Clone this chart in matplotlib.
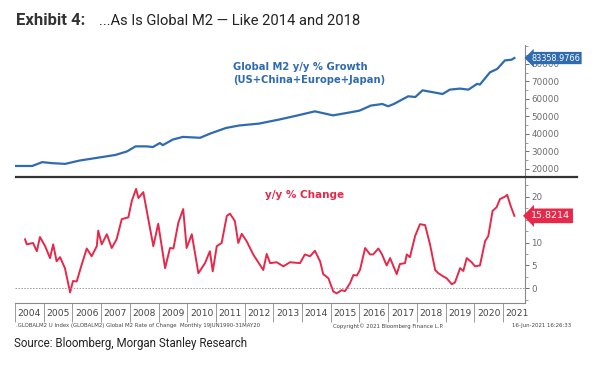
import matplotlib
matplotlib.use("Agg")
import matplotlib.pyplot as plt
from matplotlib.lines import Line2D
from matplotlib.transforms import blended_transform_factory
from matplotlib.ticker import MultipleLocator, FixedLocator, NullFormatter

# Global M2 level (USD bn)
m2_t = [2004.0, 2004.6, 2004.95, 2005.3, 2005.75, 2006.25, 2006.8, 2007.5,
        2007.9, 2008.2, 2008.6, 2008.8, 2009.05, 2009.15, 2009.5, 2009.85,
        2010.45, 2010.8, 2011.35, 2011.8, 2012.5, 2013.2, 2013.8, 2014.45,
        2015.08, 2015.67, 2016.0, 2016.4, 2016.8, 2017.0, 2017.2, 2017.7,
        2017.95, 2018.2, 2018.57, 2018.9, 2019.15, 2019.5, 2019.8, 2020.1,
        2020.2, 2020.55, 2020.8, 2021.07, 2021.3, 2021.4]
m2_v = [21700, 21700, 23900, 23300, 22900, 24800, 26200, 28000,
        30000, 32900, 32900, 32500, 34800, 33600, 36800, 38300,
        37800, 40200, 43400, 44800, 45900, 48200, 50400, 52900,
        50600, 52300, 53300, 56200, 57100, 55800, 57100, 61500,
        61100, 64900, 63800, 62800, 65300, 65900, 65300, 68600,
        68200, 75200, 77100, 82000, 82400, 83359]
m2_last = "83358.9766"

# y/y % change
yy_t = [2004.35, 2004.41, 2004.63, 2004.76, 2004.87, 2005.05, 2005.22, 2005.33,
        2005.45, 2005.57, 2005.74, 2005.92, 2006.02, 2006.15, 2006.32, 2006.50,
        2006.67, 2006.85, 2006.90, 2007.02, 2007.20, 2007.37, 2007.54, 2007.72,
        2007.95, 2008.07, 2008.22, 2008.30, 2008.47, 2008.82, 2008.99, 2009.23,
        2009.40, 2009.52, 2009.69, 2009.86, 2009.98, 2010.16, 2010.39, 2010.62,
        2010.79, 2010.89, 2011.03, 2011.20, 2011.38, 2011.49, 2011.66, 2011.78,
        2011.90, 2012.07, 2012.30, 2012.65, 2012.77, 2012.89, 2013.12, 2013.35,
        2013.58, 2013.93, 2014.10, 2014.28, 2014.45, 2014.63, 2014.74, 2014.92,
        2015.09, 2015.21, 2015.38, 2015.50, 2015.67, 2015.79, 2015.91, 2016.02,
        2016.20, 2016.37, 2016.48, 2016.66, 2016.78, 2016.95, 2017.07, 2017.30,
        2017.41, 2017.59, 2017.65, 2017.76, 2017.94, 2018.11, 2018.29, 2018.46,
        2018.64, 2018.75, 2018.92, 2019.04, 2019.22, 2019.33, 2019.51, 2019.62,
        2019.74, 2019.91, 2020.03, 2020.20, 2020.38, 2020.49, 2020.64, 2020.78,
        2020.90, 2021.07, 2021.15, 2021.27, 2021.40]
yy_v = [10.7, 9.6, 9.9, 8.1, 11.2, 9.2, 6.6, 9.6,
        5.9, 6.8, 4.4, -0.9, 1.6, 1.5, 5.1, 8.7,
        7.0, 9.2, 12.6, 9.6, 11.8, 8.8, 10.7, 15.1,
        15.5, 19.1, 21.7, 19.7, 21.0, 9.2, 14.1, 4.4,
        8.8, 8.7, 14.3, 17.3, 8.8, 11.8, 3.3, 5.5,
        8.1, 3.7, 9.2, 9.9, 15.8, 16.3, 14.7, 9.9,
        11.9, 10.3, 7.4, 4.0, 7.5, 5.5, 5.7, 4.8,
        5.7, 5.5, 7.4, 7.0, 8.2, 5.9, 3.1, 2.2,
        -0.7, -1.1, -0.4, -0.6, 1.1, 2.9, 2.8, 4.0,
        8.8, 7.4, 7.4, 8.7, 7.5, 5.0, 6.6, 3.1,
        5.3, 5.5, 7.4, 6.8, 11.4, 14.0, 13.8, 9.6,
        4.0, 3.3, 2.6, 2.2, 0.9, 1.3, 4.4, 3.8,
        6.6, 5.7, 4.8, 5.0, 10.3, 11.4, 16.9, 17.7,
        19.5, 20.0, 20.4, 18.0, 15.8214]
yy_last = "15.8214"

years = list(range(2004, 2022))
m2_ticks = [20000, 30000, 40000, 50000, 60000, 70000, 80000]
yy_ticks = [0, 5, 10, 20]   # the 15 label sits under the last-value tag

BLUE = "#2f6bb0"
RED = "#e6284a"
GREY = "#6b6b6b"

W, H = 608, 371
fig = plt.figure(figsize=(W / 100, H / 100), dpi=100)
fig.patch.set_facecolor("white")

ax1 = fig.add_axes([15 / W, (H - 177) / H, 510 / W, 132 / H])
ax2 = fig.add_axes([15 / W, (H - 303) / H, 510 / W, 126 / H])

for ax in (ax1, ax2):
    ax.set_xlim(2004.0, 2021.77)
    ax.spines["left"].set_visible(False)
    ax.spines["top"].set_visible(False)
    ax.spines["right"].set_color("#8a8a8a")
    ax.spines["right"].set_linewidth(0.8)
    ax.yaxis.tick_right()
    ax.tick_params(axis="y", which="major", direction="out", length=3,
                   width=0.6, color="#555555", labelsize=6.3,
                   labelcolor=GREY, pad=1.5)
    ax.tick_params(axis="y", which="minor", direction="out", length=1.8,
                   width=0.5, color="#777777")

# upper panel: level
ax1.plot(m2_t, m2_v, color=BLUE, lw=1.6, solid_joinstyle="round")
ax1.set_ylim(15400, 90800)
ax1.yaxis.set_major_locator(FixedLocator(m2_ticks))
ax1.yaxis.set_minor_locator(MultipleLocator(5000))
ax1.spines["bottom"].set_visible(False)
ax1.set_xticks([])
ax1.text(233 / W, 1 - 67 / H, "Global M2 y/y % Growth", transform=fig.transFigure,
         color=BLUE, fontsize=7.2, fontweight="bold", va="center")
ax1.text(233 / W, 1 - 80 / H, "(US+China+Europe+Japan)", transform=fig.transFigure,
         color=BLUE, fontsize=7.2, fontweight="bold", va="center")
tr1 = blended_transform_factory(ax1.transAxes, ax1.transData)
ax1.text(1.012, m2_v[-1], m2_last, transform=tr1, color="white",
         fontsize=5.9, va="center", ha="left",
         bbox=dict(boxstyle="larrow,pad=0.2", fc=BLUE, ec="none"), zorder=5)

# lower panel: y/y change
ax2.plot(yy_t, yy_v, color=RED, lw=1.4, solid_joinstyle="round")
ax2.axhline(0, color="#9a9a9a", lw=0.7, ls=(0, (1.5, 1.5)))
ax2.set_ylim(-3.2, 24.3)
ax2.yaxis.set_major_locator(FixedLocator(yy_ticks))
ax2.yaxis.set_minor_locator(MultipleLocator(2.5))
ax2.spines["bottom"].set_color("#8a8a8a")
ax2.spines["bottom"].set_linewidth(0.8)
ax2.text(265 / W, 1 - 195 / H, "y/y % Change", transform=fig.transFigure,
         color=RED, fontsize=7.5, fontweight="bold", va="center")
tr2 = blended_transform_factory(ax2.transAxes, ax2.transData)
ax2.text(1.012, yy_v[-1], yy_last, transform=tr2, color="white",
         fontsize=6.8, va="center", ha="left",
         bbox=dict(boxstyle="larrow,pad=0.3", fc=RED, ec="none"), zorder=5)

# year bands on the x axis
ax2.xaxis.set_major_locator(FixedLocator(years))
ax2.xaxis.set_major_formatter(NullFormatter())
ax2.xaxis.set_minor_locator(FixedLocator([y + 0.5 for y in years]))
ax2.set_xticklabels([str(y) for y in years], minor=True)
ax2.tick_params(axis="x", which="major", direction="out", length=14,
                width=0.6, color="#8a8a8a")
ax2.tick_params(axis="x", which="minor", length=0, labelsize=6.6,
                labelcolor="#444444", pad=4)

# dark divider between panels
fig.add_artist(Line2D([16 / W, 577 / W], [1 - 177 / H, 1 - 177 / H],
                      transform=fig.transFigure, color="#333333", lw=1.6))

# Bloomberg footer
foot_y = 1 - 326 / H
fig.text(16 / W, foot_y, ".GLOBALM2 U Index (GLOBALM2) Global M2 Rate of Change  Monthly 19JUN1990-31MAY20",
         fontsize=3.9, color="#444444", va="center")
fig.text(333 / W, foot_y, "Copyright\u00a9 2021 Bloomberg Finance L.P.",
         fontsize=3.9, color="#444444", va="center")
fig.text(512 / W, foot_y, "16-Jun-2021 16:26:33", fontsize=3.9,
         color="#444444", va="center")

# title and source
fig.text(16 / W, 1 - 25 / H, "Exhibit 4:", family="Roboto", fontweight="bold",
         fontsize=12, color="#333333", va="baseline")
fig.text(99 / W, 1 - 25 / H, "...As Is Global M2 \u2014 Like 2014 and 2018",
         family="Roboto", fontsize=10.6, color="#222222", va="baseline")
fig.text(14 / W, 1 - 344 / H, "Source: Bloomberg, Morgan Stanley Research",
         family="Roboto", fontsize=8.3, color="#222222", va="center")

fig.savefig("out.png", dpi=100, facecolor="white")
